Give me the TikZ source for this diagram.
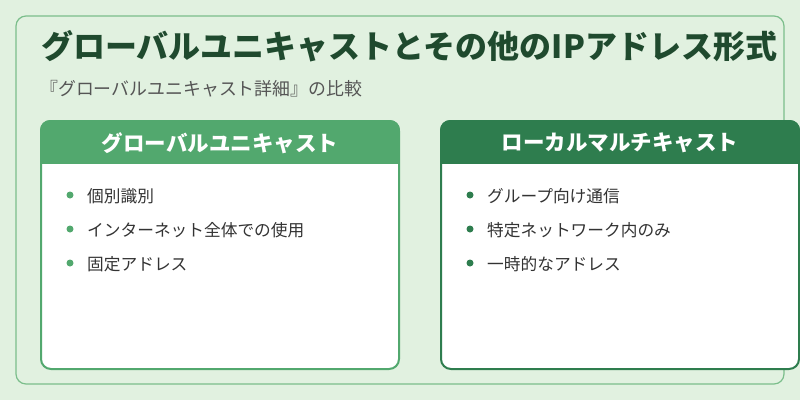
\documentclass[tikz,border=0pt]{standalone}
\usepackage{fontspec}
\setmainfont{Noto Sans CJK JP}
\definecolor{bg}{HTML}{E1F1E0}
\definecolor{frame}{HTML}{7BBE8B}
\definecolor{hdrA}{HTML}{52A86E}
\definecolor{hdrB}{HTML}{2E7D4E}
\definecolor{ttl}{HTML}{1F4A2E}
\definecolor{sub}{HTML}{555555}
\definecolor{txt}{HTML}{333333}
\tikzset{
  card/.style={draw=#1, line width=2pt, fill=white, rounded corners=10pt},
  hdrtext/.style={text=white, font=\fontsize{21.5}{24}\selectfont\bfseries, anchor=center},
  item/.style={anchor=west, text=txt, font=\fontsize{16.7}{19}\selectfont, inner sep=0pt},
  dot/.style={circle, fill=#1, inner sep=0pt, minimum size=7pt}
}
\begin{document}
\begin{tikzpicture}[x=1pt,y=-1pt]
\fill[bg] (0,0) rectangle (800,400);
\useasboundingbox (0,0) rectangle (800,400);
\draw[frame, line width=1.2pt, rounded corners=10pt] (16,16) rectangle (784,384);
\node[anchor=west, text=ttl, font=\fontsize{32}{36}\selectfont\bfseries, inner sep=0pt] (title) at (41,46) {グローバルユニキャストとその他のIPアドレス形式};
\node[anchor=west, text=sub, font=\fontsize{17.9}{20}\selectfont, inner sep=0pt] (subtitle) at (40,89) {『グローバルユニキャスト詳細』の比較};
% left card
\draw[card=hdrA] (41,121) rectangle (399,369);
\begin{scope}
\clip[rounded corners=10pt] (40,120) rectangle (400,370);
\fill[hdrA] (40,120) rectangle (400,164);
\end{scope}
\node[hdrtext] (lh) at (220,143) {グローバルユニキャスト};
\node[dot=hdrA] (l1) at (70,195) {};
\node[item] (lt1) at (87,196) {個別識別};
\node[dot=hdrA] (l2) at (70,229) {};
\node[item] (lt2) at (87,230) {インターネット全体での使用};
\node[dot=hdrA] (l3) at (70,263) {};
\node[item] (lt3) at (87,264) {固定アドレス};
% right card
\draw[card=hdrB] (441,121) rectangle (799,369);
\begin{scope}
\clip[rounded corners=10pt] (440,120) rectangle (800,370);
\fill[hdrB] (440,120) rectangle (800,164);
\end{scope}
\node[hdrtext] (rh) at (620,143) {ローカルマルチキャスト};
\node[dot=hdrB] (r1) at (470,195) {};
\node[item] (rt1) at (487,196) {グループ向け通信};
\node[dot=hdrB] (r2) at (470,229) {};
\node[item] (rt2) at (487,230) {特定ネットワーク内のみ};
\node[dot=hdrB] (r3) at (470,263) {};
\node[item] (rt3) at (487,264) {一時的なアドレス};
\end{tikzpicture}
\end{document}
